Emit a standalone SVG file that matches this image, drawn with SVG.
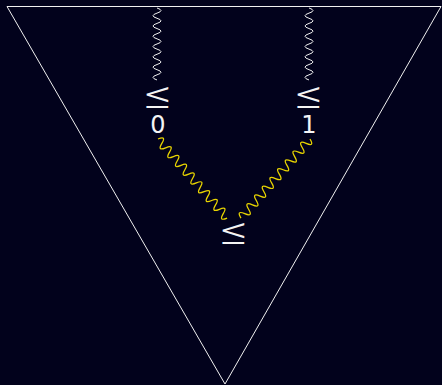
<svg xmlns="http://www.w3.org/2000/svg" width="442" height="385" viewBox="0 0 442 385">
<defs>
<style>
.bg{fill:#02021c}
.edge{fill:none;stroke:#f0f0f0;stroke-width:1}
.wav{fill:none;stroke:#f0f0f0;stroke-width:1}
.ywav{fill:none;stroke:#e8d400;stroke-width:1.3}
.lbl{fill:#f4f4f4;font-family:"DejaVu Sans",sans-serif;font-size:24px;text-anchor:middle}
.rel{fill:#f4f4f4;font-family:Roboto,"DejaVu Sans",sans-serif;font-weight:300;font-size:38px;text-anchor:middle}
</style>
<path id="vw" d="M0,0 q2.57,-8 5.14,0 q2.57,8 5.14,0 q2.57,-8 5.14,0 q2.57,8 5.14,0 q2.57,-8 5.14,0 q2.57,8 5.14,0 q2.57,-8 5.14,0 q2.57,8 5.14,0 q2.57,-8 5.14,0 q2.57,8 5.14,0 q2.57,-8 5.14,0 q2.57,8 5.14,0 q2.57,-8 5.14,0 q2.57,8 5.14,0"/>
<path id="dw" d="M0,0 q2.917,-9 5.833,0 q2.917,9 5.833,0 q2.917,-9 5.833,0 q2.917,9 5.833,0 q2.917,-9 5.833,0 q2.917,9 5.833,0 q2.917,-9 5.833,0 q2.917,9 5.833,0 q2.917,-9 5.833,0 q2.917,9 5.833,0 q2.917,-9 5.833,0 q2.917,9 5.833,0 q2.917,-9 5.833,0 q2.917,9 5.833,0 q2.917,-9 5.833,0 q2.917,9 5.833,0 q2.917,-9 5.833,0 q2.917,9 5.833,0"/>
</defs>
<rect class="bg" x="0" y="0" width="442" height="385"/>
<g id="triangle">
<path class="edge" d="M7,6.5 L441,6.5 L225,384 Z"/>
</g>
<g id="connectors">
<use href="#vw" class="wav" transform="translate(157,8) rotate(90)"/>
<use href="#vw" class="wav" transform="translate(309,8) rotate(90)"/>
<use href="#dw" class="ywav" transform="translate(158,139) rotate(48.86)"/>
<use href="#dw" class="ywav" transform="translate(310,139) rotate(131.14)"/>
</g>
<g id="node-le0">
<text class="rel" transform="translate(158,108) scale(1.4,1)">≤</text>
<text class="lbl" x="158" y="133">0</text>
</g>
<g id="node-le1">
<text class="rel" transform="translate(309,108) scale(1.4,1)">≤</text>
<text class="lbl" x="309" y="133">1</text>
</g>
<g id="node-le">
<text class="rel" transform="translate(234,244) scale(1.4,1)">≤</text>
</g>
</svg>
